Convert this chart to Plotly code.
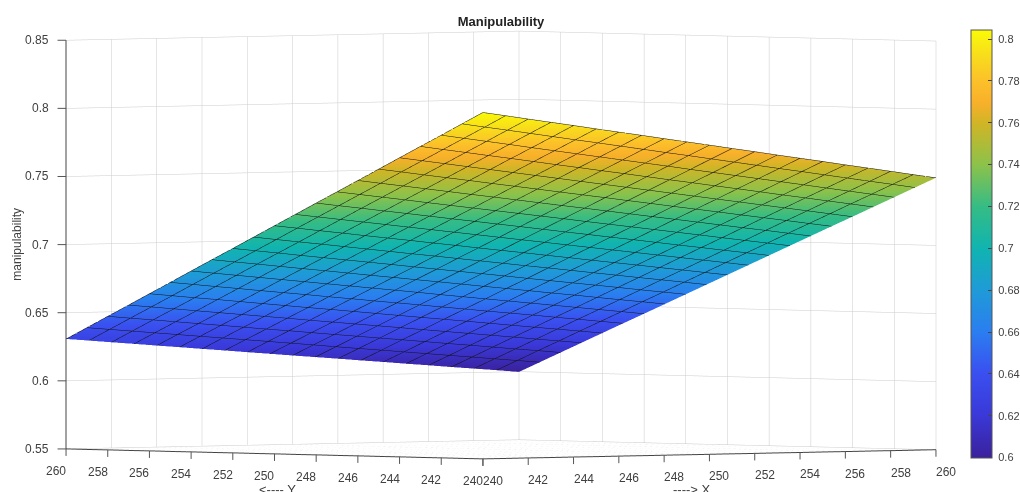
import plotly.graph_objects as go

x_vals = list(range(240, 261))
y_vals = list(range(240, 261))
xy_ticks = [240, 242, 244, 246, 248, 250, 252, 254, 256, 258, 260]
z_ticks = [0.55, 0.6, 0.65, 0.7, 0.75, 0.8, 0.85]
cbar_ticks = [0.6, 0.62, 0.64, 0.66, 0.68, 0.7, 0.72, 0.74, 0.76, 0.78, 0.8]

manipulability = [
[.8043,.8016,.7988,.7961,.7934,.7906,.7879,.7852,.7824,.7797,.7770,.7742,.7715,.7687,.7660,.7633,.7605,.7578,.7551,.7523,.7496],
[.7956,.7929,.7903,.7876,.7849,.7822,.7796,.7769,.7742,.7715,.7689,.7662,.7635,.7608,.7581,.7555,.7528,.7501,.7474,.7448,.7421],
[.7869,.7843,.7817,.7791,.7764,.7738,.7712,.7686,.7660,.7634,.7608,.7581,.7555,.7529,.7503,.7477,.7451,.7424,.7398,.7372,.7346],
[.7783,.7757,.7732,.7706,.7681,.7655,.7629,.7604,.7578,.7553,.7527,.7501,.7476,.7450,.7425,.7399,.7373,.7348,.7322,.7297,.7271],
[.7696,.7671,.7646,.7621,.7596,.7571,.7546,.7521,.7496,.7471,.7446,.7421,.7396,.7371,.7346,.7321,.7296,.7271,.7246,.7221,.7196],
[.7609,.7585,.7560,.7536,.7512,.7487,.7463,.7439,.7414,.7390,.7366,.7341,.7317,.7292,.7268,.7244,.7219,.7195,.7171,.7146,.7122],
[.7522,.7498,.7475,.7451,.7427,.7403,.7380,.7356,.7332,.7308,.7285,.7261,.7237,.7213,.7190,.7166,.7142,.7118,.7095,.7071,.7047],
[.7435,.7412,.7389,.7366,.7342,.7319,.7296,.7273,.7250,.7227,.7204,.7180,.7157,.7134,.7111,.7088,.7065,.7041,.7018,.6995,.6972],
[.7349,.7326,.7304,.7281,.7259,.7236,.7213,.7191,.7168,.7146,.7123,.7100,.7078,.7055,.7033,.7010,.6987,.6965,.6942,.6920,.6897],
[.7262,.7240,.7218,.7196,.7174,.7152,.7130,.7108,.7086,.7064,.7042,.7020,.6998,.6976,.6954,.6932,.6910,.6888,.6866,.6844,.6822],
[.7175,.7154,.7132,.7111,.7089,.7068,.7047,.7025,.7004,.6982,.6961,.6940,.6918,.6897,.6875,.6854,.6833,.6811,.6790,.6768,.6747],
[.7088,.7067,.7046,.7026,.7005,.6984,.6963,.6942,.6922,.6901,.6880,.6859,.6838,.6818,.6797,.6776,.6755,.6734,.6714,.6693,.6672],
[.7001,.6981,.6961,.6940,.6920,.6900,.6880,.6860,.6839,.6819,.6799,.6779,.6759,.6738,.6718,.6698,.6678,.6658,.6637,.6617,.6597],
[.6915,.6895,.6876,.6856,.6836,.6817,.6797,.6777,.6758,.6738,.6719,.6699,.6679,.6660,.6640,.6620,.6601,.6581,.6561,.6542,.6522],
[.6828,.6809,.6790,.6771,.6752,.6733,.6714,.6695,.6676,.6657,.6638,.6618,.6599,.6580,.6561,.6542,.6523,.6504,.6485,.6466,.6447],
[.6741,.6723,.6704,.6686,.6667,.6649,.6631,.6612,.6594,.6575,.6557,.6539,.6520,.6502,.6483,.6465,.6447,.6428,.6410,.6391,.6373],
[.6654,.6636,.6618,.6601,.6583,.6565,.6547,.6529,.6512,.6494,.6476,.6458,.6440,.6423,.6405,.6387,.6369,.6351,.6334,.6316,.6298],
[.6567,.6550,.6533,.6515,.6498,.6481,.6464,.6447,.6429,.6412,.6395,.6378,.6361,.6343,.6326,.6309,.6292,.6275,.6257,.6240,.6223],
[.6481,.6464,.6448,.6431,.6414,.6398,.6381,.6364,.6348,.6331,.6314,.6298,.6281,.6265,.6248,.6231,.6215,.6198,.6181,.6165,.6148],
[.6394,.6378,.6362,.6346,.6330,.6314,.6298,.6282,.6266,.6250,.6234,.6217,.6201,.6185,.6169,.6153,.6137,.6121,.6105,.6089,.6073],
[.6307,.6292,.6276,.6261,.6245,.6230,.6214,.6199,.6183,.6168,.6152,.6137,.6122,.6106,.6091,.6075,.6060,.6044,.6029,.6014,.5998],
]

parula = [
[0.0, "#3a219c"], [0.1, "#3a38d8"], [0.2, "#3a50f0"], [0.295, "#2a7ef0"], [0.39, "#1f9ad8"],
[0.49, "#10b4b0"], [0.587, "#35bc85"], [0.685, "#8cc24a"], [0.78, "#cfb526"], [0.83, "#f8b02a"],
[0.88, "#fcc02a"], [0.93, "#f8d81e"], [0.98, "#f9f010"], [1.0, "#fbfb00"],
]

TXT = "#404040"
TICK = "#555555"
FONT = "Liberation Sans"
X0, X1 = 240, 260
Y0, Y1 = 240, 260
Z0, Z1 = 0.55, 0.85

def axis(ticks, rng):
    return dict(
        title=dict(text=""), range=rng, tickmode="array", tickvals=ticks, ticks="", showticklabels=False,
        showgrid=True, gridcolor="#cccccc", gridwidth=1, showline=True, linecolor="#444444", linewidth=2,
        showbackground=False, zeroline=False, showspikes=False, autorange=False,
    )

def label(x, y, z, text, **kw):
    base = dict(x=x, y=y, z=z, text=text, showarrow=False, font=dict(family=FONT, size=12, color=TXT))
    base.update(kw)
    return base

def tick(x, y, z, ax, ay):
    return dict(x=x, y=y, z=z, text=" ", showarrow=True, arrowhead=0, arrowwidth=1, arrowcolor=TICK,
                ax=ax, ay=ay, standoff=0, startstandoff=0, font=dict(size=1))

annotations = []
for t in xy_ticks:
    annotations.append(label(t, Y0, Z0, str(t), xshift=10, yshift=-22))
    annotations.append(tick(t, Y0, Z0, 0, 9))
    annotations.append(label(X0, t, Z0, str(t), xshift=-10, yshift=-22))
    annotations.append(tick(X0, t, Z0, 0, 9))
for t in z_ticks:
    annotations.append(label(X0, Y1, t, f"{t:g}", xanchor="right", xshift=-15))
    annotations.append(tick(X0, Y1, t, -10, 0))
annotations.append(label(250, Y0, Z0, "----&gt; X", xshift=-17, yshift=-35, font=dict(family=FONT, size=13, color=TXT)))
annotations.append(label(X0, 250, Z0, "&lt;---- Y", xshift=3, yshift=-36, font=dict(family=FONT, size=13, color=TXT)))
annotations.append(label(X0, Y1, 0.7, "manipulability", textangle=-90, xshift=-49, font=dict(family=FONT, size=12, color=TXT)))

fig = go.Figure(go.Surface(
    x=x_vals, y=y_vals, z=manipulability, colorscale=parula, cmin=0.5998, cmax=0.8043,
    lighting=dict(ambient=1.0, diffuse=0.0, specular=0.0, roughness=1.0, fresnel=0.0),
    contours=dict(
        x=dict(show=True, start=240, end=260, size=1, color="#111111", width=2),
        y=dict(show=True, start=240, end=260, size=1, color="#111111", width=2),
    ),
    colorbar=dict(
        x=971/1020, xanchor="left", y=1-30/492, yanchor="top", len=428/492, lenmode="fraction",
        thickness=21, thicknessmode="pixels", tickmode="array", tickvals=cbar_ticks,
        ticktext=["\u00a0" + f"{t:g}" for t in cbar_ticks], ticks="inside", ticklen=4, tickcolor="#444444",
        tickfont=dict(family=FONT, size=11, color=TXT), outlinecolor="#555555", outlinewidth=1,
        xpad=0, ypad=0,
    ),
))

E = 5.0
S = 2.544
fig.update_layout(
    width=1020, height=492, autosize=False, paper_bgcolor="white",
    margin=dict(l=0, r=0, t=0, b=0, autoexpand=False), showlegend=False,
    title=dict(text="<b>Manipulability</b>", x=501/1020, xanchor="center", y=1-21/492, yanchor="middle",
               font=dict(family=FONT, size=13, color="#222222")),
    scene=dict(
        domain=dict(x=[0, 1002/1020], y=[5/492, 489/492]),
        xaxis=axis(xy_ticks, [X0, X1]),
        yaxis=axis(xy_ticks, [Y0, Y1]),
        zaxis=axis(z_ticks, [Z0, Z1]),
        aspectmode="manual", aspectratio=dict(x=S, y=S, z=0.664*S),
        camera=dict(projection=dict(type="orthographic"), center=dict(x=0, y=0, z=0), up=dict(x=0, y=0, z=1),
                    eye=dict(x=-0.677*E, y=-0.7357*E, z=0.022*E)),
        annotations=annotations,
    ),
)
fig.write_html("out.html", config=dict(displayModeBar=False),
               post_script="document.body.style.margin='0';document.body.style.overflow='hidden';")
